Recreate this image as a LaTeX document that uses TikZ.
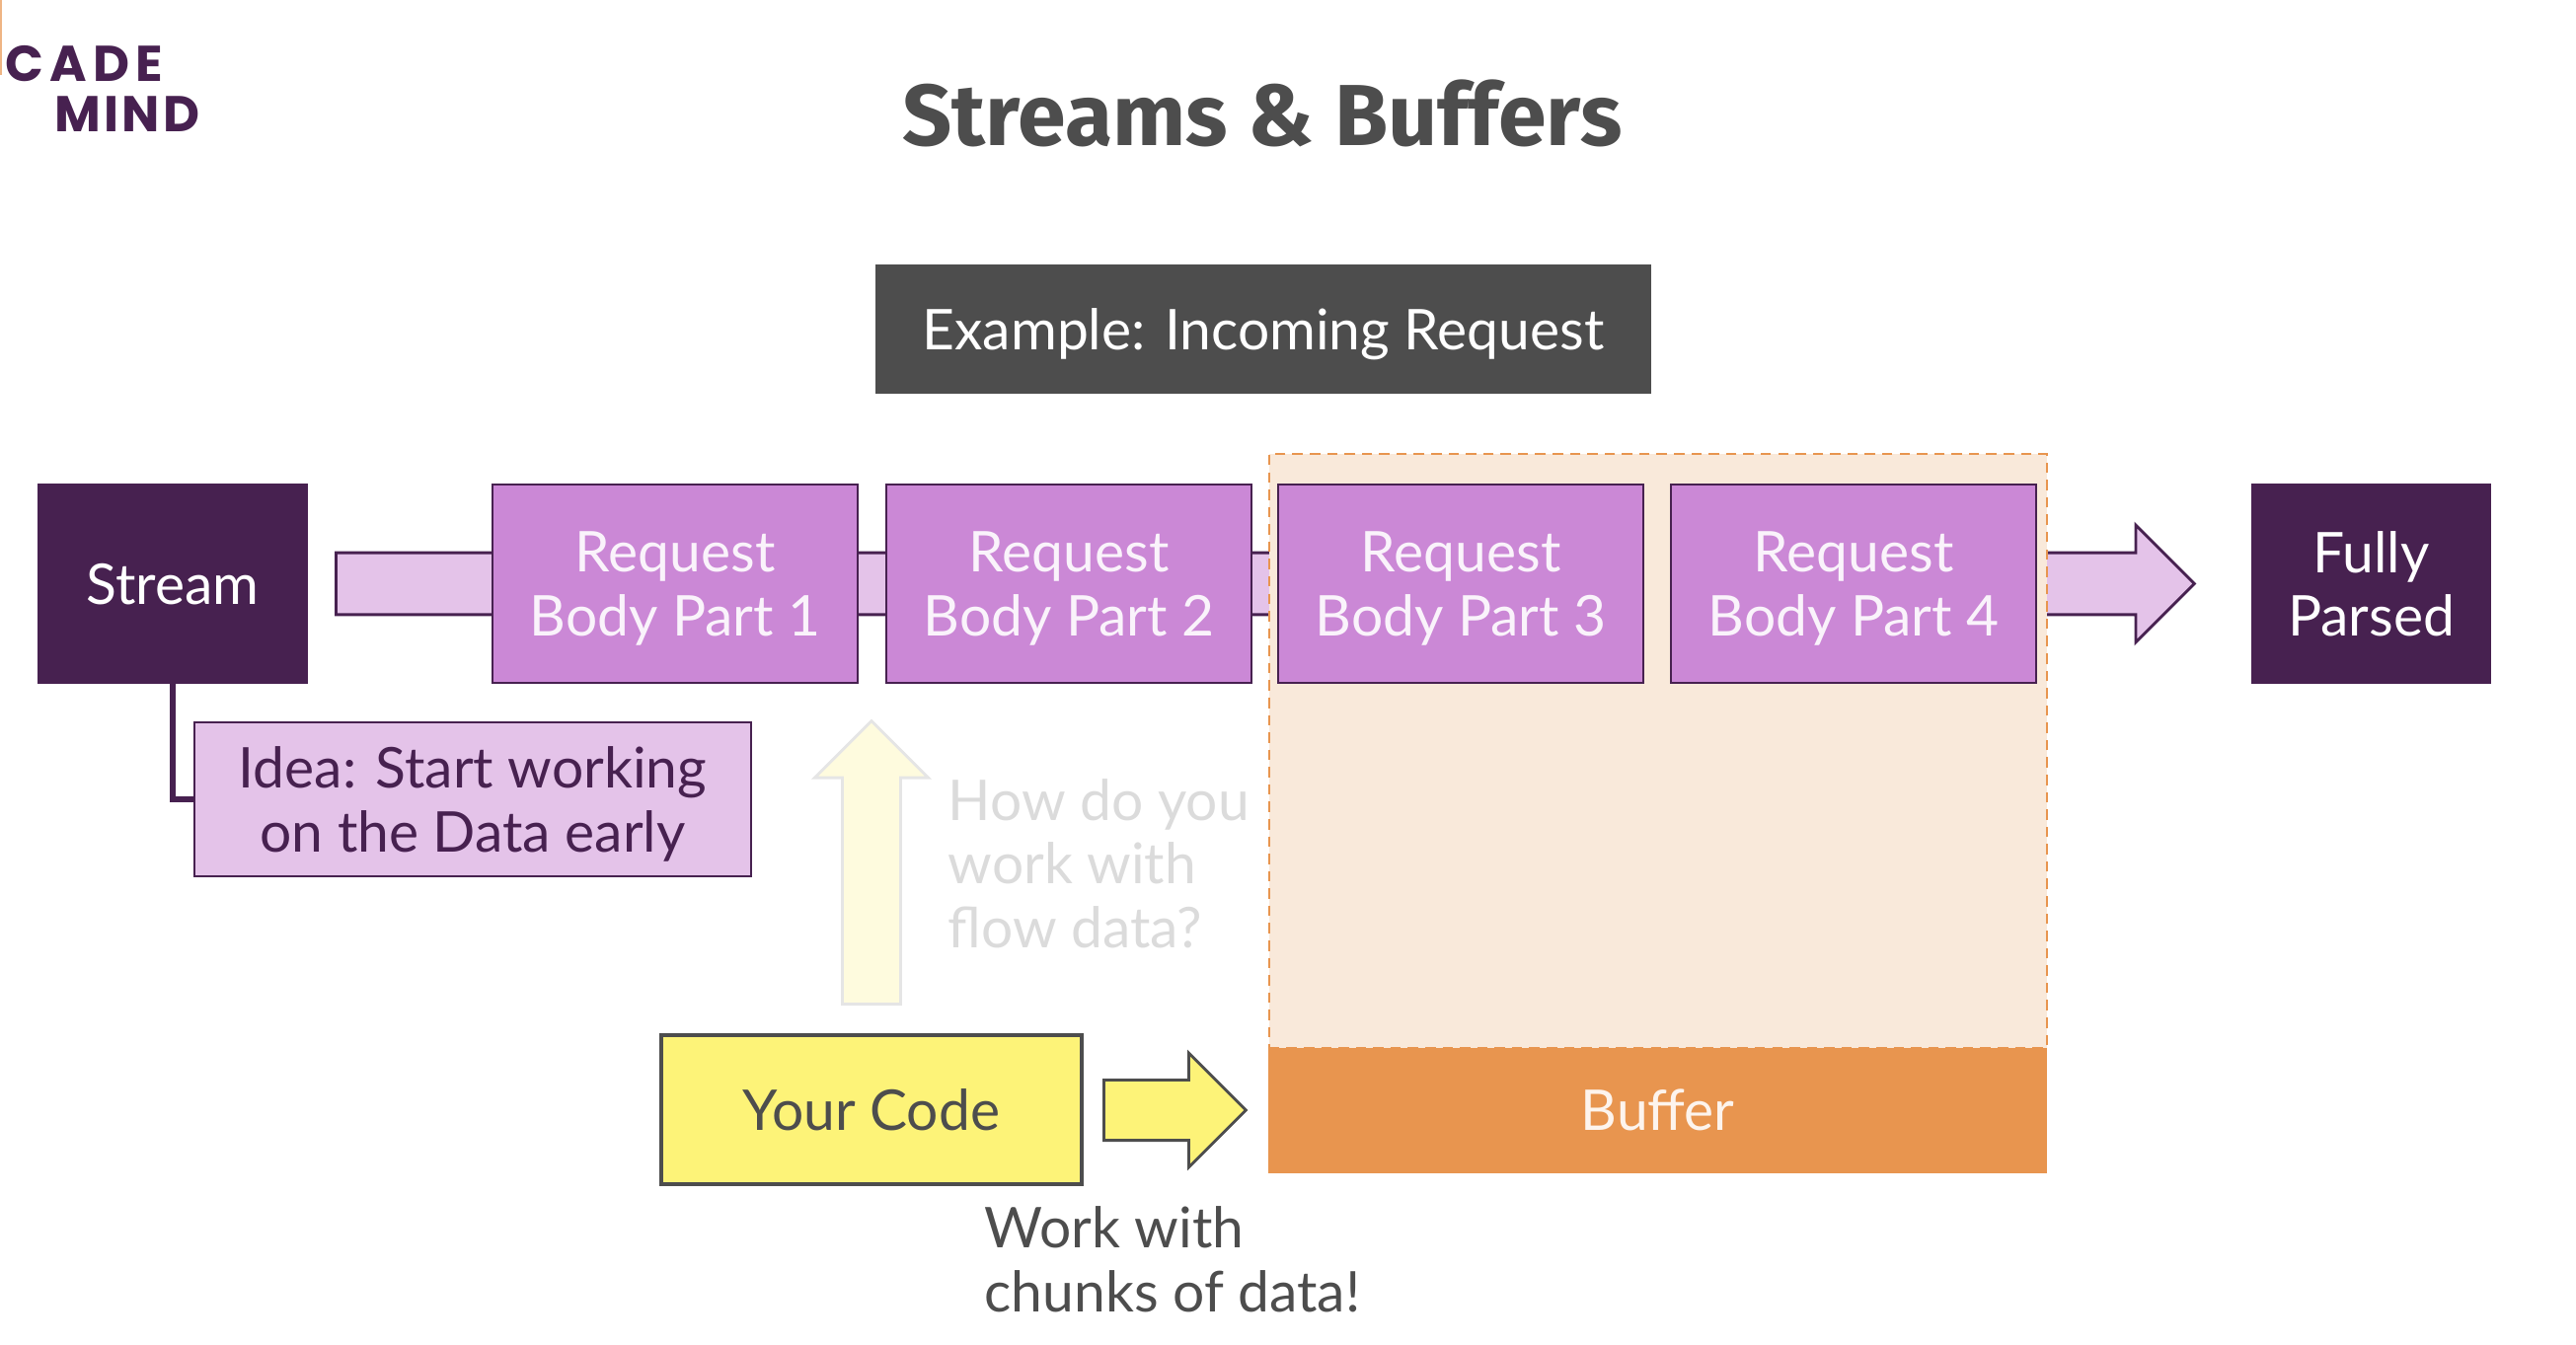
\documentclass[tikz,border=0pt]{standalone}
\usepackage{fontspec}
\setmainfont{Lato}
\newfontfamily\titlefont{Fira Sans}
\newfontfamily\logofont{Poppins}
\usetikzlibrary{shapes.arrows}
\definecolor{darkplum}{HTML}{472150}
\definecolor{midplum}{HTML}{CB88D6}
\definecolor{paleplum}{HTML}{E4C3E9}
\definecolor{softyellow}{HTML}{FDF378}
\definecolor{fadeyellow}{HTML}{FEFBDE}
\definecolor{deeporange}{HTML}{E8954F}
\definecolor{paleorange}{HTML}{F9E9DA}
\definecolor{slate}{HTML}{4D4D4D}
\tikzset{
    label text/.style={font=\fontsize{16.2}{18.4}\selectfont, align=center, inner sep=0pt},
    plumbox/.style={label text, draw=darkplum, line width=0.8pt, text=white, text depth=0pt},
    darkbox/.style={plumbox, fill=darkplum, minimum height=2.01cm},
    requestbox/.style={plumbox, fill=midplum, text=white!90!midplum, minimum width=3.7cm, minimum height=2.01cm},
    logotext/.style={anchor=west, inner sep=0pt, text=darkplum, font=\fontsize{14.5}{16}\selectfont\logofont\bfseries},
    blockarrow/.style={single arrow, inner sep=0pt, text width=0pt, text height=0.53cm, text depth=0pt, anchor=tail, line width=0.8pt},
}
\begin{document}
\begin{tikzpicture}[yscale=-1]
    \useasboundingbox (0,0) rectangle (26.1,13.62);
    \draw [deeporange!70, line width=0.5pt] (0.01,0) -- (0.01,0.76);
    \node [logotext] (logotop) at (0.05,0.65) {\addfontfeature{LetterSpace=12}CADE};
    \node [logotext] (logobottom) at (0.55,1.155) {\addfontfeature{LetterSpace=6}MIND};
    \node [text=slate, inner sep=0pt, font=\fontsize{25}{28}\selectfont\titlefont\bfseries] (title) at (12.79,1.15) {Streams \& Buffers};
    \node [label text, text depth=0pt, fill=slate, text=white, minimum width=7.86cm, minimum height=1.31cm] (example) at (12.80,3.335) {Example: Incoming Request};

    \node [blockarrow, draw=darkplum, fill=paleplum, minimum height=18.83cm, minimum width=1.19cm] (flow) at (3.39,5.915) {};
    \node [draw=deeporange, densely dashed, fill=paleorange, line width=0.5pt, minimum width=7.88cm, minimum height=6.02cm, anchor=north west, inner sep=0pt] (bufferzone) at (12.85,4.59) {};
    \node [label text, fill=deeporange, text=white!90!deeporange, minimum width=7.89cm, minimum height=1.27cm, anchor=north west] (buffer) at (12.845,10.61) {Buffer};

    \node [darkbox, minimum width=2.72cm] (stream) at (1.75,5.915) {Stream};
    \node [requestbox] (part1) at (6.84,5.915) {Request\\Body Part 1};
    \node [requestbox] (part2) at (10.83,5.915) {Request\\Body Part 2};
    \node [requestbox] (part3) at (14.80,5.915) {Request\\Body Part 3};
    \node [requestbox] (part4) at (18.78,5.915) {Request\\Body Part 4};
    \node [darkbox, minimum width=2.41cm] (parsed) at (24.025,5.915) {Fully\\Parsed};

    \node [plumbox, fill=paleplum, text=darkplum, minimum width=5.64cm, minimum height=1.56cm] (idea) at (4.79,8.10) {Idea: Start working\\on the Data early};
    \draw [darkplum, line width=1.6pt] (stream.south) |- (idea.west);

    \node [blockarrow, rotate=90, text height=0.5cm, draw=black!10, fill=fadeyellow, minimum height=2.87cm, minimum width=1.15cm] (hintarrow) at (8.83,10.19) {};
    \node [label text, anchor=west, align=left, text=black!14] (hint) at (9.60,8.75) {How do you\\work with\\flow data?};

    \node [label text, draw=slate, line width=0.9pt, fill=softyellow, text=slate, minimum width=4.26cm, minimum height=1.51cm] (code) at (8.83,11.245) {Your Code};
    \node [blockarrow, draw=slate, fill=softyellow, minimum height=1.44cm, minimum width=1.16cm] (codearrow) at (11.17,11.25) {};
    \node [label text, anchor=north west, align=left, text=slate] (chunks) at (9.97,12.22) {Work with\\chunks of data!};
\end{tikzpicture}
\end{document}
